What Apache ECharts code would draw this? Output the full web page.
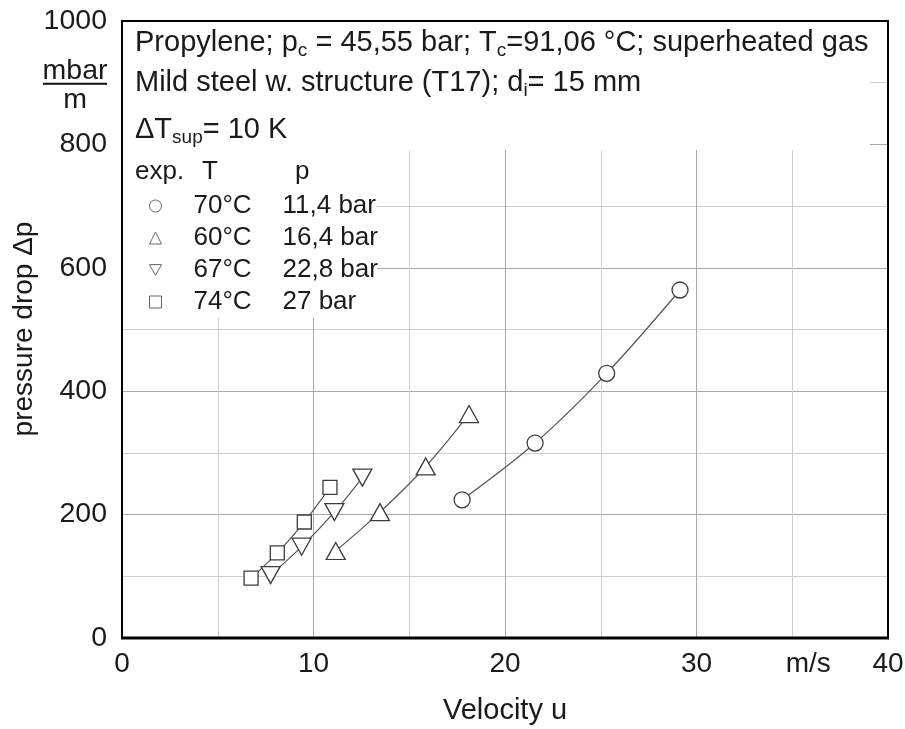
<!DOCTYPE html>
<html><head><meta charset="utf-8">
<script src="https://cdn.jsdelivr.net/npm/echarts@6/dist/echarts.min.js"></script>
<style>html,body{margin:0;padding:0;background:#fff}#c{width:905px;height:729px}</style>
</head><body><div id="c"></div>
<script>
// ---- data ----
const seriesTemps = ['70°C', '60°C', '67°C', '74°C'];
const seriesPressures = ['11,4 bar', '16,4 bar', '22,8 bar', '27 bar'];
const vel70 = [17.76, 21.57, 25.31, 29.14];
const dp70  = [224, 316, 429, 564];
const vel60 = [11.16, 13.47, 15.86, 18.12];
const dp60  = [141, 204, 278, 363];
const vel67 = [7.76, 9.38, 11.09, 12.55];
const dp67  = [102, 148, 204, 260];
const vel74 = [6.74, 8.11, 9.52, 10.86];
const dp74  = [97, 138, 188, 244];
const xTickLabels = [0, 10, 20, 30, 40];
const xUnitAt = 35;
const yTickLabels = [0, 200, 400, 600, 800, 1000];
const yUnitAt = 900;

const FONT = "'Liberation Sans', Arial, sans-serif";
const TXT = '#1a1a1a';
const MK = '#3c3c3c';
const downTri = 'path://M0,0L10,0L5,9Z';
const symbols = ['circle', 'triangle', downTri, 'rect'];
const symSizes = [16, [19, 17], [19, 17], 14];
const velSets = [vel70, vel60, vel67, vel74];
const dpSets = [dp70, dp60, dp67, dp74];

const chart = echarts.init(document.getElementById('c'), null, {renderer: 'canvas'});

const series = seriesTemps.map((name, k) => ({
  name: name,
  type: 'line',
  smooth: 0.35,
  data: velSets[k].map((v, i) => [v, dpSets[k][i]]),
  symbol: symbols[k],
  symbolSize: symSizes[k],
  showAllSymbol: true,
  lineStyle: {color: '#555', width: 1.2},
  itemStyle: {color: '#fff', borderColor: MK, borderWidth: 1.3},
  z: 3
}));

const pressureOf = {};
seriesTemps.forEach((t, i) => pressureOf[t] = seriesPressures[i]);

const normal = {fontSize: 29, lineHeight: 34, fontFamily: FONT, color: TXT};
const sub = {fontSize: 19, lineHeight: 18, fontFamily: FONT, color: TXT, verticalAlign: 'bottom'};

function textEl(x, y, text, extra) {
  return {
    type: 'text', x: x, y: y, z: 10,
    style: Object.assign({
      text: text, fill: TXT, font: '29px ' + FONT,
      textVerticalAlign: 'middle', verticalAlign: 'middle',
      rich: {n: normal, s: sub}
    }, extra || {})
  };
}

const option = {
  animation: false,
  backgroundColor: '#fff',
  grid: {left: 122, right: 17, top: 21, bottom: 91, show: false, containLabel: false, outerBoundsMode: 'none'},
  xAxis: {
    type: 'value', min: 0, max: 40, interval: 5,
    axisLine: {show: false},
    axisTick: {show: false},
    splitLine: {show: true, lineStyle: {color: ['#a8a8a8', '#cfcfcf'], width: 1}},
    axisLabel: {
      margin: 12, fontSize: 28, fontFamily: FONT, color: TXT, showMaxLabel: true, showMinLabel: true,
      formatter: v => xTickLabels.indexOf(v) >= 0 ? String(v) : (v === xUnitAt ? '{u|m/s}' : ''),
      rich: {u: {fontSize: 28, fontFamily: FONT, color: TXT, padding: [0, 0, 0, 32]}}
    },
    name: 'Velocity u', nameLocation: 'middle', nameGap: 58,
    nameTextStyle: {fontSize: 29, fontFamily: FONT, color: TXT}
  },
  yAxis: {
    type: 'value', min: 0, max: 1000, interval: 100,
    axisLine: {show: false},
    axisTick: {show: false},
    splitLine: {show: true, lineStyle: {color: ['#a8a8a8', '#cfcfcf'], width: 1}},
    axisLabel: {
      margin: 15, fontSize: 28.5, fontFamily: FONT, color: TXT, showMaxLabel: true,
      formatter: v => yTickLabels.indexOf(v) >= 0 ? String(v) : (v === yUnitAt ? '{u|mbar}\n{l| }\n{m|m}' : ''),
      rich: {
        u: {fontSize: 28.5, fontFamily: FONT, color: TXT, width: 64, align: 'center', lineHeight: 24},
        l: {fontSize: 1, width: 64, height: 2, lineHeight: 2, backgroundColor: '#111'},
        m: {fontSize: 28.5, fontFamily: FONT, color: TXT, width: 64, align: 'center', lineHeight: 22, padding: [8, 0, 0, 0]}
      }
    }
  },
  legend: {
    orient: 'vertical', left: 149, top: 193, padding: 0, itemGap: 6,
    itemWidth: 12, itemHeight: 12, selectedMode: false,
    data: seriesTemps.map((t, i) => ({name: t, icon: symbols[i]})),
    itemStyle: {color: '#fff', borderColor: '#666', borderWidth: 1},
    formatter: name => '{t|' + name + '}{p|' + pressureOf[name] + '}',
    textStyle: {
      fontSize: 26, fontFamily: FONT, color: TXT,
      rich: {
        t: {fontSize: 26, fontFamily: FONT, color: TXT, width: 89, padding: [0, 0, 0, 27], lineHeight: 28},
        p: {fontSize: 26, fontFamily: FONT, color: TXT, lineHeight: 28}
      }
    }
  },
  graphic: [
    {type: 'rect', z: 1, silent: true, shape: {x: 123, y: 22, width: 747, height: 128}, style: {fill: '#fff'}},
    {type: 'rect', z: 1, silent: true, shape: {x: 123, y: 149, width: 254, height: 169}, style: {fill: '#fff'}},
    // plot frame
    {type: 'rect', z: 20, silent: true, shape: {x: 122, y: 21, width: 766, height: 617}, style: {fill: 'none', stroke: '#000', lineWidth: 2}},
    {type: 'line', z: 20, silent: true, shape: {x1: 121, y1: 638, x2: 889, y2: 638}, style: {stroke: '#000', lineWidth: 3}},
    // y-axis title
    {type: 'text', x: 24, y: 329, rotation: Math.PI / 2, z: 10,
     style: {text: 'pressure drop Δp', fill: TXT, font: '28px ' + FONT, align: 'center', verticalAlign: 'middle'}},
    textEl(135, 43, '{n|Propylene; p}{s|c}{n| = 45,55 bar; T}{s|c}{n|=91,06 °C; superheated gas}'),
    textEl(135, 83, '{n|Mild steel w. structure (T17); d}{s|i}{n|= 15 mm}'),
    textEl(135, 130, '{n|ΔT}{s|sup}{n|= 10 K}'),
    textEl(135, 172, 'exp.', {font: '26px ' + FONT}),
    textEl(202, 172, 'T', {font: '26px ' + FONT}),
    textEl(295, 172, 'p', {font: '26px ' + FONT})
  ],
  series: series
};
chart.setOption(option);
</script>
</body></html>
